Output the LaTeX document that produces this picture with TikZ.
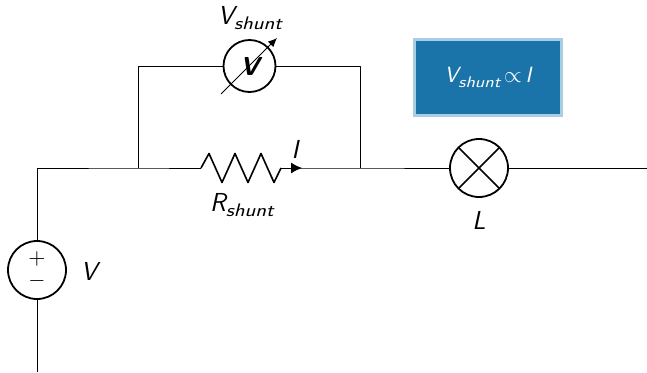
\documentclass[tikz,border=0pt]{standalone}
\usepackage{graphicx}
\usetikzlibrary{arrows.meta}
\definecolor{boxblue}{HTML}{1A74A9}
\definecolor{boxedge}{HTML}{A9CDE2}
\makeatletter
\newcommand{\symsub}[2]{{\sffamily\itshape #1\raisebox{-0.22em}{\dimen@=\f@size pt\dimen@=0.7\dimen@\fontsize{\strip@pt\dimen@}{\strip@pt\dimen@}\selectfont\scalebox{1.22}[1]{#2}}}}
\makeatother
\tikzset{
  wire/.style={draw=black,line width=1pt,line join=round},
  symb/.style={circle,draw=black,line width=1.8pt,fill=white,inner sep=0pt,outer sep=0pt},
  lbl/.style={inner sep=0pt,font=\fontsize{26}{28}\selectfont\sffamily\itshape},
  note/.style={rectangle,draw=boxedge,line width=3pt,fill=boxblue,text=white,minimum width=147pt,minimum height=76pt,inner sep=0pt,font=\fontsize{22}{25}\selectfont\sffamily\itshape}
}
\begin{document}
\begin{tikzpicture}[x=1pt,y=-1pt]
\useasboundingbox (0,0) rectangle (647,372);
% junctions and free ends
\coordinate (end1) at (37,372);
\coordinate (corner) at (37,168);
\coordinate (jl) at (138.5,168);
\coordinate (jr) at (360,168);
\coordinate (tl) at (138.5,66);
\coordinate (tr) at (360,66);
\coordinate (end2) at (647,168);
\coordinate (rl) at (201,168);
\coordinate (rr) at (281,168);
\coordinate (mlo) at (221,94);
\coordinate (mhi) at (277,38);
% components
\node[symb,minimum size=58pt] (src) at (37,270) {};
\node[symb,minimum size=52pt] (meter) at (249.5,66) {};
\node[symb,minimum size=58pt] (lamp) at (479,168) {};
\node[inner sep=0pt,font=\fontsize{26}{28}\selectfont\sffamily\bfseries\itshape] (vv) at (250,66) {V};
\node[inner sep=0pt] (plus) at (37,264.5) {\smash{\scalebox{2.2}{$+$}}};
\node[inner sep=0pt] (minus) at (37,286.5) {\smash{\scalebox{2.2}{$-$}}};
% wires
\draw[wire] (end1) -- (src.south);
\draw[wire] (src.north) -- (corner) -- (jl) -- (rl);
\draw[wire] (jl) -- (tl) -- (meter.west);
\draw[wire] (meter.east) -- (tr) -- (jr);
\draw[wire] (rr) -- (jr) -- (lamp.west);
\draw[wire] (lamp.east) -- (end2);
% resistor
\draw[wire,line width=1.6pt] (rl) -- ++(8,-14.5) -- ++(13,29) -- ++(13,-29) -- ++(13,29) -- ++(13,-29) -- ++(13,29) -- (rr);
% current arrow
\draw[wire,-{Latex[length=11pt,width=11pt]}] (rr) -- ++(21,0);
% meter arrow
\draw[line width=0.9pt,-{Latex[length=9pt,width=8pt]}] (mlo) -- (mhi);
% lamp cross
\draw[wire,line width=1.6pt] (lamp.north west) -- (lamp.south east);
\draw[wire,line width=1.6pt] (lamp.north east) -- (lamp.south west);
% labels
\node[lbl] (lv) at (250,18) {\symsub{V}{shunt}};
\node[lbl] (li) at (295,149) {I};
\node[lbl] (lr) at (242,205) {\symsub{R}{shunt}};
\node[lbl] (ll) at (479,220) {L};
\node[lbl] (lsrc) at (89,271) {V};
\node[note] (nb) at (488,77.5) {\symsub{V}{shunt}\,\scalebox{1.1}{$\propto$}\,I};
\end{tikzpicture}
\end{document}
